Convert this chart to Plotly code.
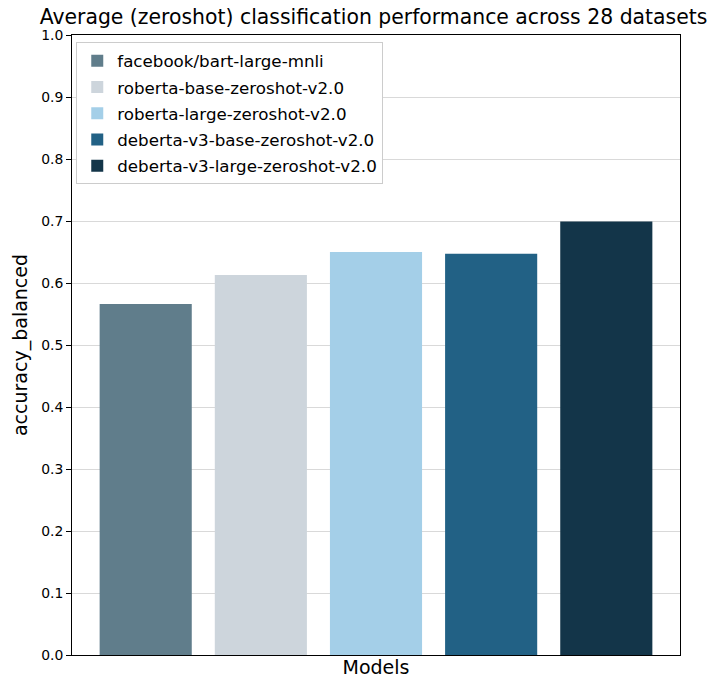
import plotly.graph_objects as go

models = ["facebook/bart-large-mnli", "roberta-base-zeroshot-v2.0", "roberta-large-zeroshot-v2.0",
          "deberta-v3-base-zeroshot-v2.0", "deberta-v3-large-zeroshot-v2.0"]
accuracy = [0.566, 0.613, 0.650, 0.647, 0.699]
colors = ["#607d8b", "#cdd5dc", "#a4cfe8", "#226185", "#133549"]
yticks = [round(i * 0.1, 1) for i in range(11)]

fig = go.Figure()
for i, (m, v, c) in enumerate(zip(models, accuracy, colors)):
    fig.add_trace(go.Bar(x=[i], y=[v], name=m, legendgroup=m,
                         marker=dict(color=c, line=dict(width=0)), width=0.8))

font = "DejaVu Sans, sans-serif"
W, H = 725, 690
fig.update_layout(
    width=W, height=H,
    margin=dict(l=59, r=W - 672, t=27, b=H - 647),
    plot_bgcolor="white", paper_bgcolor="white",
    font=dict(family=font, color="black"),
    title=dict(text="Average (zeroshot) classification performance across 28 datasets",
               x=365.5 / W, xanchor="center", y=1 - 8.5 / H, yanchor="middle",
               font=dict(size=20.4, family=font)),
    showlegend=True,
    legend=dict(x=0.007, y=0.988, xanchor="left", yanchor="top", bgcolor="white",
                bordercolor="#cccccc", borderwidth=1, font=dict(size=16.7, family=font),
                tracegroupgap=1.5),
    bargap=0.2,
)
fig.update_xaxes(range=[-0.64, 4.64], showticklabels=False, ticks="", showgrid=False,
                 showline=True, linecolor="black", linewidth=1, mirror=True,
                 title=dict(text="Models", font=dict(size=19), standoff=5), zeroline=False)
fig.update_yaxes(range=[0, 1], tickvals=yticks, ticktext=[f"{t:.1f}" for t in yticks],
                 ticks="outside", ticklen=5, tickcolor="black", tickfont=dict(size=13.9),
                 showgrid=True, gridcolor="rgba(0,0,0,0.15)", gridwidth=1,
                 showline=True, linecolor="black", linewidth=1, mirror=True,
                 zeroline=False, layer="above traces",
                 title=dict(text="accuracy_balanced", font=dict(size=19), standoff=8))
fig.write_html("out.html")
